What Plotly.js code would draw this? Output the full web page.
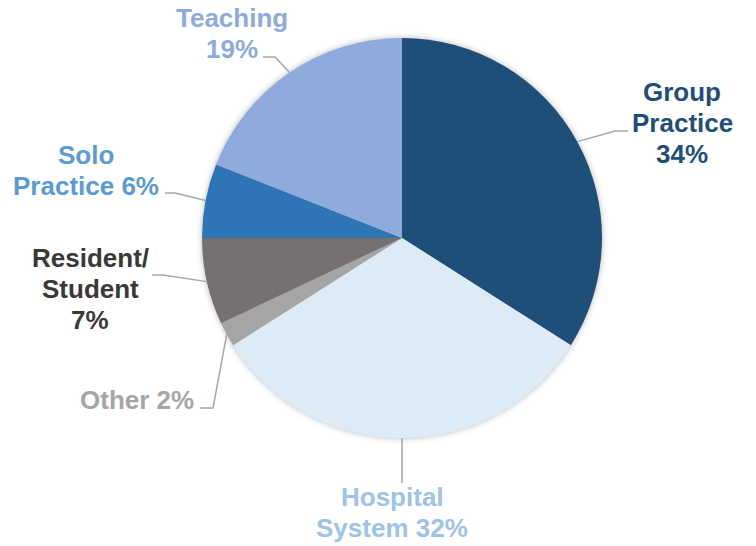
<!DOCTYPE html>
<html><head><meta charset="utf-8">
<script src="https://cdn.plot.ly/plotly-3.0.1.min.js"></script>
<style>html,body{margin:0;padding:0;background:#fff}#chart{width:756px;height:546px}
.pielayer{filter:drop-shadow(0px 0px 3px rgba(0,0,0,0.28));}</style>
</head><body><div id="chart"></div>
<script>
// ---- data ----
const categories = ["Group<br>Practice", "Hospital<br>System", "Other", "Resident/<br>Student", "Solo<br>Practice", "Teaching"];
const values = [34, 32, 2, 7, 6, 19];
const pctJoin = ["<br>", " ", " ", "<br>", " ", "<br>"];
const sliceColors = ["#1F4E79", "#DDEBF7", "#A5A5A5", "#767171", "#2E75B6", "#8FAADC"];
const labelColors = ["#1F4E79", "#9DC3E6", "#A5A5A5", "#3B3838", "#5B9BD5", "#8FAADC"];

// ---- layout config (pixels) ----
const W = 756, H = 546, CX = 402, CY = 238, R = 200;
// label placement: center x, first-line y, anchor; elbow and end of leader line
const labelPos = [
  {x: 682, y: 92, anchor: "center", elbow: [615, 131], end: [628, 131]},
  {x: 392, y: 497, anchor: "center", elbow: null, end: [402, 483]},
  {x: 196, y: 400, anchor: "right", elbow: [213, 408], end: [200, 408]},
  {x: 90, y: 258, anchor: "center", elbow: [163, 275], end: [152, 275]},
  {x: 86, y: 155, anchor: "center", elbow: [175, 193], end: [165, 193]},
  {x: 232, y: 18, anchor: "center", elbow: [275, 57], end: [263, 57]}
];
const LINE_H = 31;

const px = x => x / W, py = y => 1 - y / H;

const total = values.reduce((a, b) => a + b, 0);
const annotations = [], shapes = [];
let cum = 0;
values.forEach((v, i) => {
  const mid = (cum + v / 2) / total * 2 * Math.PI;
  cum += v;
  const sx = CX + R * Math.sin(mid), sy = CY - R * Math.cos(mid);
  const lp = labelPos[i];
  let path = `M${px(sx)},${py(sy)}`;
  if (lp.elbow) path += ` L${px(lp.elbow[0])},${py(lp.elbow[1])}`;
  path += ` L${px(lp.end[0])},${py(lp.end[1])}`;
  shapes.push({type: "path", xref: "paper", yref: "paper", path: path,
    line: {color: "#A6A6A6", width: 1.5}});
  const text = categories[i] + pctJoin[i] + v + "%";
  text.split("<br>").forEach((ln, k) => {
    annotations.push({xref: "paper", yref: "paper", x: px(lp.x), y: py(lp.y + k * LINE_H),
      xanchor: lp.anchor, yanchor: "middle", showarrow: false, text: "<b>" + ln + "</b>",
      font: {family: "Liberation Sans, Arial, sans-serif", size: 26, color: labelColors[i]}});
  });
});

const trace = {
  type: "pie", labels: categories, values: values, sort: false,
  direction: "clockwise", rotation: 0, textinfo: "none", hoverinfo: "none",
  marker: {colors: sliceColors, line: {width: 0}},
  domain: {x: [(CX - R) / W, (CX + R) / W], y: [1 - (CY + R) / H, 1 - (CY - R) / H]}
};
Plotly.newPlot("chart", [trace], {
  width: W, height: H, margin: {l: 0, r: 0, t: 0, b: 0},
  showlegend: false, paper_bgcolor: "#fff", annotations: annotations, shapes: shapes
}, {displayModeBar: false, staticPlot: true});
</script></body></html>
